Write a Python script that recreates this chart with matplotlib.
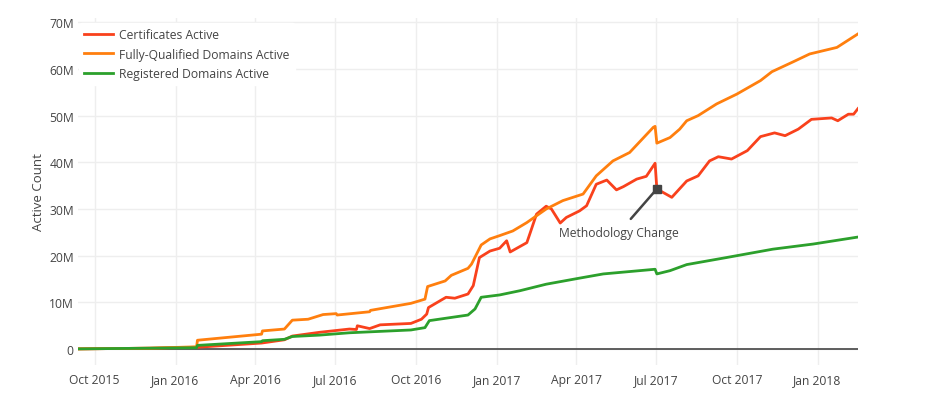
import matplotlib
matplotlib.use("Agg")
import matplotlib.pyplot as plt
import matplotlib.dates as mdates
import pandas as pd

plt.rcParams['font.family'] = ['Open Sans', 'DejaVu Sans']

# ---------------- data (values in millions) ----------------
fqdn_dates = ["2015-09-12", "2015-12-03", "2016-01-25", "2016-01-26", "2016-04-08", "2016-04-09",
              "2016-05-04", "2016-05-13", "2016-05-31", "2016-06-17", "2016-07-02", "2016-07-03",
              "2016-08-09", "2016-08-10", "2016-09-25", "2016-10-11", "2016-10-14", "2016-11-03",
              "2016-11-10", "2016-11-29", "2016-12-03", "2016-12-14", "2016-12-24", "2017-01-04",
              "2017-01-19", "2017-02-04", "2017-02-26", "2017-03-17", "2017-04-09", "2017-04-24",
              "2017-05-13", "2017-06-01", "2017-06-28", "2017-06-30", "2017-07-02", "2017-07-17",
              "2017-07-28", "2017-08-05", "2017-08-18", "2017-09-08", "2017-10-01", "2017-10-28",
              "2017-11-10", "2017-12-04", "2017-12-23", "2018-01-23", "2018-02-16"]
fqdn_values = [0.05, 0.2, 0.5, 1.9, 3.2, 3.9,
               4.3, 6.2, 6.4, 7.4, 7.6, 7.3,
               8.0, 8.3, 9.8, 10.7, 13.4, 14.6,
               15.8, 17.3, 18.2, 22.3, 23.6, 24.3,
               25.3, 27.1, 30.0, 31.8, 33.2, 37.1,
               40.3, 42.1, 47.5, 47.7, 44.1, 45.3,
               47.1, 48.9, 50.0, 52.5, 54.6, 57.5,
               59.4, 61.5, 63.2, 64.6, 67.5]

cert_dates = ["2015-09-12", "2015-12-03", "2016-01-26", "2016-04-08", "2016-05-04", "2016-05-13",
              "2016-06-13", "2016-07-17", "2016-07-25", "2016-07-26", "2016-08-09", "2016-08-21",
              "2016-09-25", "2016-10-07", "2016-10-13", "2016-10-15", "2016-11-04", "2016-11-14",
              "2016-11-29", "2016-12-05", "2016-12-12", "2016-12-24", "2017-01-04", "2017-01-10",
              "2017-01-12", "2017-01-16", "2017-02-04", "2017-02-08", "2017-02-15", "2017-02-26",
              "2017-03-04", "2017-03-14", "2017-03-21", "2017-04-05", "2017-04-13", "2017-04-24",
              "2017-05-06", "2017-05-17", "2017-05-25", "2017-06-09", "2017-06-20", "2017-06-30",
              "2017-07-02", "2017-07-19", "2017-08-05", "2017-08-18", "2017-08-31", "2017-09-10",
              "2017-09-25", "2017-10-13", "2017-10-28", "2017-11-13", "2017-11-25", "2017-12-10",
              "2017-12-25", "2018-01-17", "2018-01-24", "2018-02-05", "2018-02-11", "2018-02-16"]
cert_values = [0.05, 0.2, 0.4, 1.3, 2.0, 2.8,
               3.6, 4.3, 4.2, 5.0, 4.4, 5.2,
               5.5, 6.4, 7.5, 8.9, 11.1, 10.9,
               11.8, 13.6, 19.6, 21.0, 21.6, 22.8,
               23.2, 20.8, 22.8, 25.0, 28.9, 30.6,
               30.0, 27.0, 28.2, 29.6, 30.7, 35.3,
               36.2, 34.1, 34.8, 36.4, 37.0, 39.8,
               34.3, 32.5, 36.0, 37.1, 40.3, 41.2,
               40.7, 42.5, 45.5, 46.3, 45.7, 47.1,
               49.2, 49.5, 48.9, 50.3, 50.3, 51.5]

reg_dates = ["2015-09-12", "2015-12-03", "2016-01-25", "2016-01-26", "2016-04-08", "2016-04-09",
             "2016-05-04", "2016-05-13", "2016-06-13", "2016-07-17", "2016-09-25", "2016-10-11",
             "2016-10-16", "2016-11-29", "2016-12-07", "2016-12-14", "2017-01-04", "2017-01-27",
             "2017-02-26", "2017-04-05", "2017-05-02", "2017-06-30", "2017-07-02", "2017-07-17",
             "2017-08-05", "2017-09-19", "2017-11-11", "2017-12-27", "2018-02-16"]
reg_values = [0.05, 0.2, 0.3, 0.8, 1.6, 1.8,
              2.1, 2.7, 3.0, 3.5, 4.1, 4.6,
              6.1, 7.3, 8.6, 11.1, 11.6, 12.5,
              13.9, 15.2, 16.1, 17.1, 16.1, 16.8,
              18.1, 19.6, 21.4, 22.5, 24.0]

series_names = ["Certificates Active", "Fully-Qualified Domains Active", "Registered Domains Active"]
series_colors = ["#f9411c", "#ff7f0e", "#2ca02c"]

y_ticks = [0, 10, 20, 30, 40, 50, 60, 70]
y_tick_labels = ["0", "10M", "20M", "30M", "40M", "50M", "60M", "70M"]

annotation_text = "Methodology Change"
annotation_date = "2017-07-02"
annotation_value = 34.3
annotation_text_date = "2017-05-20"
annotation_text_value = 25.0

# ---------------- figure ----------------
W, H = 935, 410
fig = plt.figure(figsize=(W / 100, H / 100), dpi=100)
ax = fig.add_axes([78 / W, (H - 366) / H, (858 - 78) / W, (366 - 19) / H])

text_color = "#444444"
grid_color = "#eeeeee"
fs = 8.7

series = [(cert_dates, cert_values), (fqdn_dates, fqdn_values), (reg_dates, reg_values)]
for (d, v), name, c in zip(series, series_names, series_colors):
    ax.plot(pd.to_datetime(d), v, color=c, lw=2, label=name, zorder=3,
            solid_joinstyle="round")

ax.set_xlim(pd.Timestamp("2015-09-12"), pd.Timestamp("2018-02-16"))
ax.set_ylim(-3.4, 70.9)

ax.set_yticks(y_ticks)
ax.set_yticklabels(y_tick_labels)
ax.xaxis.set_major_locator(mdates.MonthLocator(bymonth=[1, 4, 7, 10]))
ax.xaxis.set_major_formatter(mdates.DateFormatter("%b %Y"))

ax.grid(True, color=grid_color, lw=1, zorder=0)
ax.set_axisbelow(True)
ax.axhline(0, color="#444444", lw=1.2, zorder=2)
for s in ax.spines.values():
    s.set_visible(False)
ax.tick_params(axis="both", length=0, colors=text_color, labelsize=fs)
ax.tick_params(axis="x", pad=6)
ax.tick_params(axis="y", pad=3)

ax.set_ylabel("Active Count", color=text_color, fontsize=9.5, labelpad=3)

leg = ax.legend(loc="upper left", bbox_to_anchor=(-1 / 780, 1 - 3 / 347), frameon=True,
                fontsize=fs, handlelength=2.4, handletextpad=0.5, labelspacing=0.52,
                borderaxespad=0.2, borderpad=0.4)
leg.get_frame().set_facecolor("white")
leg.get_frame().set_edgecolor("white")
leg.get_frame().set_alpha(1.0)
for t in leg.get_texts():
    t.set_color(text_color)

# annotation
ad = pd.Timestamp(annotation_date)
ax.annotate(annotation_text, xy=(ad, annotation_value),
            xytext=(pd.Timestamp(annotation_text_date), annotation_text_value),
            ha="center", va="center", color=text_color, fontsize=fs,
            arrowprops=dict(arrowstyle="-", color="#444444", lw=1.8, shrinkA=4, shrinkB=0),
            zorder=5)
ax.plot([ad], [annotation_value], marker="s", color="#444444", markersize=6, zorder=6)

fig.savefig("out.png", dpi=100)
